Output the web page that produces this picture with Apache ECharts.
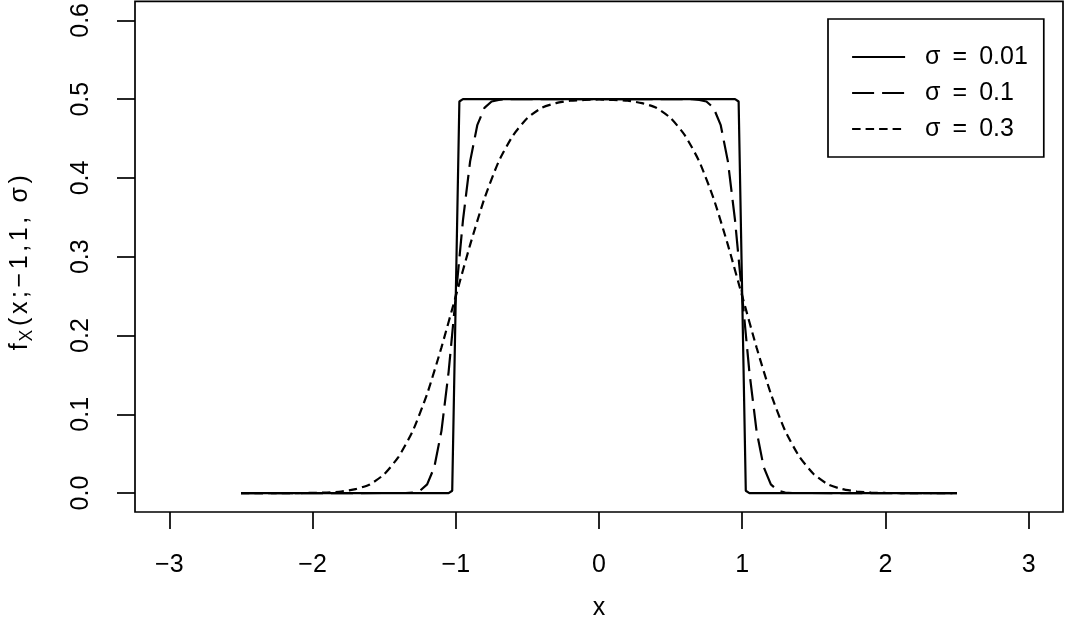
<!DOCTYPE html>
<html>
<head>
<meta charset="utf-8">
<script src="https://cdn.jsdelivr.net/npm/echarts@6/dist/echarts.min.js"></script>
<style>
html,body{margin:0;padding:0;background:#fff;}
#chart{width:1065px;height:628px;}
</style>
</head>
<body>
<div id="chart"></div>
<script>
// ---- data ----
const xTicks = [-3, -2, -1, 0, 1, 2, 3];
const yTicks = [0, 0.1, 0.2, 0.3, 0.4, 0.5, 0.6];

const sig001X = [-2.5, -1.05, -1.025, -1.0, -0.975, -0.95, 0.95, 0.975, 1.0, 1.025, 1.05, 2.5];
const sig001Y = [0, 0, 0.003, 0.25, 0.497, 0.5, 0.5, 0.497, 0.25, 0.003, 0, 0];

const sig01X = [-2.5, -1.35, -1.3, -1.25, -1.2, -1.15, -1.1, -1.05, -1.0, -0.95, -0.9, -0.85, -0.8, -0.75, -0.7, -0.65,
                0.65, 0.7, 0.75, 0.8, 0.85, 0.9, 0.95, 1.0, 1.05, 1.1, 1.15, 1.2, 1.25, 1.3, 1.35, 2.5];
const sig01Y = [0, 0.0001, 0.0007, 0.003, 0.011, 0.033, 0.079, 0.154, 0.25, 0.346, 0.421, 0.467, 0.489, 0.497, 0.499, 0.5,
                0.5, 0.499, 0.497, 0.489, 0.467, 0.421, 0.346, 0.25, 0.154, 0.079, 0.033, 0.011, 0.003, 0.0007, 0.0001, 0];

const sig03X = [-2.5, -2.2, -2.0, -1.9, -1.8, -1.7, -1.6, -1.5, -1.4, -1.3, -1.2, -1.1, -1.0, -0.9, -0.8, -0.7, -0.6, -0.5,
                -0.4, -0.3, -0.2, -0.1, 0, 0.1, 0.2, 0.3, 0.4, 0.5, 0.6, 0.7, 0.8, 0.9, 1.0, 1.1, 1.2, 1.3, 1.4, 1.5,
                1.6, 1.7, 1.8, 1.9, 2.0, 2.2, 2.5];
const sig03Y = [0, 0, 0.0002, 0.0007, 0.002, 0.005, 0.011, 0.024, 0.046, 0.079, 0.126, 0.185, 0.25, 0.315, 0.374, 0.421, 0.454, 0.476,
                0.489, 0.495, 0.498, 0.499, 0.4996, 0.499, 0.498, 0.495, 0.489, 0.476, 0.454, 0.421, 0.374, 0.315, 0.25, 0.185, 0.126, 0.079, 0.046, 0.024,
                0.011, 0.005, 0.002, 0.0007, 0.0002, 0, 0];

const seriesNames = ['σ = 0.01', 'σ = 0.1', 'σ = 0.3'];
const yTitleMain = 'f';
const yTitleSub = 'X';
const yTitleRest = '(x;\u22121,1, σ)';
const xTitle = 'x';

// ---- chart ----
function pairs(xs, ys) { return xs.map((x, i) => [x, ys[i]]); }
const FONT = '"Liberation Sans", Arial, Helvetica, sans-serif';
const FS = 25;
const LW = 2.2;
const dashes = ['solid', [22, 8], [8.5, 5]];

const yName = '{t|' + yTitleMain + '}{s|' + yTitleSub + '}' +
  Array.from(yTitleRest).map(c => '{t|' + c + '}').join('');

const chart = echarts.init(document.getElementById('chart'), null, {renderer: 'canvas'});
chart.setOption({
  animation: false,
  backgroundColor: '#fff',
  textStyle: {fontFamily: FONT, color: '#000'},
  grid: {
    left: 131, top: 1, right: 2, bottom: 116,
    show: true, borderColor: '#000', borderWidth: 1.7, backgroundColor: 'transparent',
    containLabel: false
  },
  legend: {
    orient: 'vertical',
    left: 828, top: 19,
    padding: [24, 16, 14, 23],
    borderColor: '#000', borderWidth: 1.7,
    itemWidth: 53, itemHeight: 14, itemGap: 8,
    itemStyle: {opacity: 0},
    lineStyle: {color: '#000', width: LW},
    formatter: function (name) {
      const p = name.split(' = ');
      return '{t|' + p[0] + '}{g|}{t|=}{g|}{t|' + p[1] + '}';
    },
    textStyle: {
      fontFamily: FONT, fontSize: FS, color: '#000', lineHeight: 28, padding: [0, 0, 0, 15],
      rich: {
        t: {fontFamily: FONT, fontSize: FS, color: '#000', lineHeight: 28},
        g: {width: 12}
      }
    },
    data: seriesNames.map(n => ({name: n}))
  },
  xAxis: {
    type: 'value', min: -3.24, max: 3.24,
    name: xTitle, nameLocation: 'middle', nameGap: 84,
    nameTextStyle: {fontFamily: FONT, fontSize: FS, color: '#000'},
    axisLine: {show: false, onZero: false},
    splitLine: {show: false},
    axisTick: {show: true, length: 17, customValues: xTicks, lineStyle: {color: '#000', width: 1.7}},
    axisLabel: {
      customValues: xTicks, fontFamily: FONT, fontSize: FS, color: '#000', margin: 41,
      formatter: v => (v < 0 ? '\u2212' + Math.abs(v) : String(v))
    }
  },
  yAxis: {
    type: 'value', min: -0.024, max: 0.624,
    name: yName, nameLocation: 'middle', nameGap: 99, nameRotate: 90,
    nameTextStyle: {
      fontFamily: FONT, color: '#000', padding: [0, 12, 0, 0],
      rich: {
        t: {fontFamily: FONT, fontSize: FS, color: '#000', verticalAlign: 'middle', padding: [0, 1.8, 0, 1.8]},
        s: {fontFamily: FONT, fontSize: 17.5, color: '#000', padding: [13, 2, 0, 0]}
      }
    },
    axisLine: {show: false, onZero: false},
    splitLine: {show: false},
    axisTick: {show: true, length: 18, customValues: yTicks, lineStyle: {color: '#000', width: 1.7}},
    axisLabel: {
      customValues: yTicks, rotate: 90, fontFamily: FONT, fontSize: FS, color: '#000', margin: 41,
      formatter: v => v.toFixed(1)
    }
  },
  series: [
    {
      name: seriesNames[0], type: 'line', data: pairs(sig001X, sig001Y), showSymbol: false, symbol: 'none',
      lineStyle: {color: '#000', width: LW, type: dashes[0]}, itemStyle: {color: '#000'}, z: 3
    },
    {
      name: seriesNames[1], type: 'line', data: pairs(sig01X, sig01Y), showSymbol: false, symbol: 'none',
      lineStyle: {color: '#000', width: LW, type: dashes[1]}, itemStyle: {color: '#000'}, z: 2
    },
    {
      name: seriesNames[2], type: 'line', data: pairs(sig03X, sig03Y), showSymbol: false, symbol: 'none', smooth: 0.2,
      lineStyle: {color: '#000', width: LW, type: dashes[2]}, itemStyle: {color: '#000'}, z: 1
    }
  ]
});
</script>
</body>
</html>
